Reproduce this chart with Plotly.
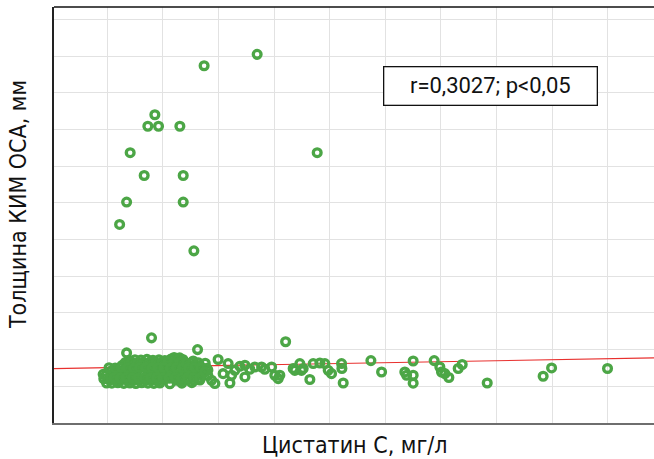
import plotly.graph_objects as go

# ---- data ----
# high outliers
high_x = [1.847, 1.370, 0.927, 0.864, 0.960, 1.152, 2.387, 0.705, 0.831, 1.182, 0.673, 1.182, 0.610, 1.278]
high_y = [2.409, 2.347, 2.080, 2.017, 2.017, 2.017, 1.873, 1.873, 1.749, 1.749, 1.604, 1.604, 1.482, 1.338]

# dense cluster (low cystatin C)
cluster_x = [
    0.897, 0.673, 1.311, 1.272, 0.493, 1.062,
    0.694, 0.748, 0.802, 0.856, 0.910, 0.964, 1.017, 1.071, 1.125, 1.179, 1.100, 1.150,
    0.630, 0.684, 0.738, 0.792, 0.846, 0.900, 0.954, 1.008, 1.062, 1.116, 1.170, 1.224, 1.278, 1.332,
    0.540, 0.594, 0.648, 0.702, 0.756, 0.810, 0.864, 0.918, 0.972, 1.026, 1.080, 1.134, 1.188, 1.242, 1.296, 1.350, 1.404,
    0.487, 0.540, 0.594, 0.648, 0.702, 0.756, 0.810, 0.864, 0.918, 0.972, 1.026, 1.080, 1.134, 1.188, 1.242, 1.296, 1.350, 1.404,
    0.522, 0.576, 0.630, 0.684, 0.738, 0.792, 0.846, 0.900, 0.954, 1.008, 1.116, 1.170, 1.224, 1.278, 1.332,
    0.540, 0.594, 0.648, 0.702, 0.756, 0.810, 0.864, 0.918, 0.972, 1.170, 1.260,
    0.462, 0.468,
    0.660, 0.715, 0.770, 0.825, 0.880, 0.935, 0.990, 1.045, 1.100, 1.155, 1.210, 1.265, 1.320, 1.380,
    0.515, 0.570, 0.625, 0.680, 0.735, 0.790, 0.845, 0.900, 0.955, 1.010, 1.065, 1.120, 1.175, 1.230, 1.285, 1.340, 1.395,
    0.560, 0.615, 0.670, 0.725, 0.780, 0.835, 0.890, 0.945, 1.000, 1.055, 1.110, 1.165, 1.220, 1.275, 1.330,
]
cluster_y = [
    0.864, 0.782, 0.800, 0.738, 0.618, 0.614,
    0.741, 0.745, 0.743, 0.747, 0.742, 0.744, 0.740, 0.748, 0.751, 0.746, 0.757, 0.755,
    0.713, 0.716, 0.714, 0.718, 0.712, 0.715, 0.717, 0.713, 0.716, 0.719, 0.714, 0.711, 0.716, 0.713,
    0.686, 0.689, 0.685, 0.688, 0.690, 0.684, 0.687, 0.689, 0.686, 0.688, 0.685, 0.690, 0.687, 0.684, 0.689, 0.686, 0.688,
    0.661, 0.658, 0.662, 0.659, 0.661, 0.657, 0.663, 0.660, 0.658, 0.662, 0.659, 0.661, 0.657, 0.660, 0.663, 0.659, 0.661, 0.658,
    0.634, 0.632, 0.636, 0.631, 0.633, 0.635, 0.632, 0.634, 0.630, 0.636, 0.633, 0.631, 0.635, 0.632, 0.634,
    0.617, 0.619, 0.616, 0.618, 0.615, 0.619, 0.617, 0.616, 0.618, 0.617, 0.620,
    0.665, 0.641,
    0.729, 0.731, 0.727, 0.730, 0.732, 0.728, 0.730, 0.733, 0.729, 0.731, 0.727, 0.730, 0.728, 0.726,
    0.701, 0.699, 0.702, 0.700, 0.698, 0.701, 0.703, 0.699, 0.700, 0.702, 0.698, 0.701, 0.700, 0.699, 0.702, 0.700, 0.698,
    0.647, 0.645, 0.648, 0.646, 0.644, 0.647, 0.645, 0.648, 0.646, 0.644, 0.647, 0.645, 0.646, 0.648, 0.645,
]

# tail (higher cystatin C)
tail_x = [1.496, 1.586, 1.737, 1.887, 1.977, 2.186, 2.231, 2.006, 2.036, 1.602, 1.617, 1.737,
          1.437, 1.467, 1.377, 1.541, 1.647, 1.826, 1.691, 1.781, 1.916, 2.103,
          2.246, 2.171, 2.321, 2.351, 2.411, 2.456, 2.486, 2.516, 2.606, 2.609, 2.621,
          2.870, 2.966, 3.175, 3.191, 3.250, 3.250, 3.250, 3.439, 3.490, 3.505, 3.535,
          3.571, 3.655, 3.691, 3.916, 4.419, 4.495, 4.998, 2.051, 2.261]
tail_y = [0.746, 0.724, 0.715, 0.705, 0.705, 0.687, 0.724, 0.660, 0.642, 0.618, 0.660, 0.651,
          0.633, 0.615, 0.678, 0.669, 0.687, 0.705, 0.709, 0.693, 0.693, 0.843,
          0.687, 0.697, 0.637, 0.724, 0.727, 0.724, 0.687, 0.669, 0.724, 0.697, 0.618,
          0.740, 0.678, 0.678, 0.660, 0.738, 0.660, 0.617, 0.740, 0.705, 0.678, 0.669,
          0.648, 0.697, 0.719, 0.618, 0.655, 0.700, 0.697, 0.660, 0.697]

# linear regression line
reg_intercept = 0.6966
reg_slope = 0.0107
x_range = [0.02, 5.416]
y_range = [0.4, 2.667]

stat_text = "r=0,3027; p<0,05"
x_title = "Цистатин С, мг/л"
y_title = "Толщина КИМ ОСА, мм"

green = "#4ca646"
title_font = "DejaVu Sans Condensed, Liberation Sans Narrow, Roboto, sans-serif"

all_x = high_x + cluster_x + tail_x
all_y = high_y + cluster_y + tail_y

fig = go.Figure()
fig.add_trace(go.Scatter(
    x=x_range,
    y=[reg_intercept + reg_slope * v for v in x_range],
    mode="lines", line=dict(color="#e8302e", width=1.2),
    hoverinfo="skip", showlegend=False,
))
fig.add_trace(go.Scatter(
    x=all_x, y=all_y, mode="markers",
    marker=dict(symbol="circle-open", size=7.8, color=green, line=dict(width=3.3, color=green)),
    showlegend=False,
))

fig.update_layout(
    width=654, height=459,
    margin=dict(l=54, r=0, t=7, b=36),
    paper_bgcolor="white", plot_bgcolor="white",
    xaxis=dict(range=x_range, tick0=0.5, dtick=0.5, showticklabels=False, ticks="",
               showgrid=True, gridcolor="#e2e2e2", gridwidth=1.3, zeroline=False,
               showline=True, linecolor="#6e6e6e", linewidth=2),
    yaxis=dict(range=y_range, tick0=0.4, dtick=0.2, showticklabels=False, ticks="",
               showgrid=True, gridcolor="#e2e2e2", gridwidth=1.3, zeroline=False,
               showline=True, linecolor="#222222", linewidth=1.5),
    shapes=[dict(type="line", xref="paper", yref="paper", x0=0, x1=1, y0=1, y1=1,
                 line=dict(color="#111111", width=1.5))],
    annotations=[
        dict(text=stat_text, xref="paper", yref="paper", x=0.7267, y=0.809,
             xanchor="center", yanchor="middle", showarrow=False,
             font=dict(family="Roboto, sans-serif", size=22, color="#111111"),
             bgcolor="white", bordercolor="#111111", borderwidth=1.3, borderpad=2,
             width=208, height=33),
        dict(text=x_title, xref="paper", yref="paper", x=0.502, y=-0.053,
             xanchor="center", yanchor="middle", showarrow=False,
             font=dict(family=title_font, size=23, color="#111111")),
        dict(text=y_title, xref="paper", yref="paper", x=-0.06, y=0.524,
             xanchor="center", yanchor="middle", showarrow=False, textangle=-90,
             font=dict(family=title_font, size=23, color="#111111")),
    ],
)

fig.write_html(
    "out.html",
    config={"displayModeBar": False},
    post_script="document.body.style.margin='0';document.body.style.padding='0';",
)
